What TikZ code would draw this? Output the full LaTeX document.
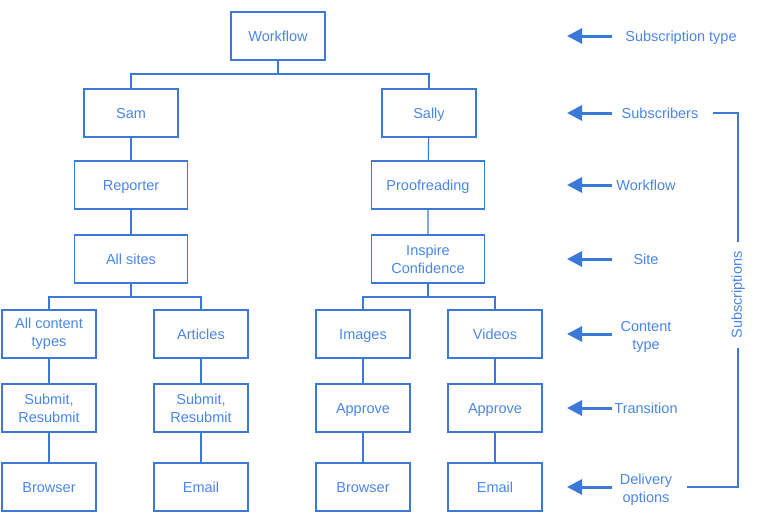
\documentclass[tikz,border=0pt]{standalone}
\usepackage{fontspec}
\setmainfont{Liberation Sans}
\usepackage{tikz}
\usetikzlibrary{arrows.meta,positioning}

\definecolor{lineblue}{HTML}{3C78D8}
\definecolor{textblue}{HTML}{4A86E8}

\tikzset{
	oneline/.style={text height=10pt, text depth=0pt},
	box/.style={draw=lineblue, line width=1.2pt, text=textblue, align=center,
		minimum width=94pt, minimum height=48pt, inner sep=2pt},
	widebox/.style={box, minimum width=113pt},
	sidelabel/.style={text=textblue, align=center},
	sidearrow/.style={draw=lineblue, line width=3pt, -{Triangle[length=15pt,width=15pt]}},
	tree/.style={draw=lineblue, line width=1.2pt},
}

\begin{document}
\begin{tikzpicture}[x=1pt, y=1pt, font=\fontsize{14.5}{18}\selectfont]
	\useasboundingbox (0,0) rectangle (763,-522);

	% tree
	\node[box,oneline] (wf) at (278,-36) {Workflow};
	\node[box,oneline] (sam) at (131,-113) {Sam};
	\node[box,oneline] (sally) at (429,-113) {Sally};
	\node[widebox,oneline] (reporter) at (131,-185) {Reporter};
	\node[widebox,oneline] (proof) at (428,-185) {Proofreading};
	\node[widebox,oneline] (allsites) at (131,-259) {All sites};
	\node[widebox] (inspire) at (428,-259) {Inspire\\Confidence};
	\node[box] (allct) at (49,-334) {All content\\types};
	\node[box,oneline] (articles) at (201,-334) {Articles};
	\node[box,oneline] (images) at (363,-334) {Images};
	\node[box,oneline] (videos) at (495,-334) {Videos};
	\node[box] (subA) at (49,-408) {Submit,\\Resubmit};
	\node[box] (subB) at (201,-408) {Submit,\\Resubmit};
	\node[box,oneline] (apprA) at (363,-408) {Approve};
	\node[box,oneline] (apprB) at (495,-408) {Approve};
	\node[box,oneline] (browA) at (49,-487) {Browser};
	\node[box,oneline] (emailA) at (201,-487) {Email};
	\node[box,oneline] (browB) at (363,-487) {Browser};
	\node[box,oneline] (emailB) at (495,-487) {Email};

	\coordinate (split1) at (278,-74);
	\coordinate (split2) at (131,-297);
	\coordinate (split3) at (428,-297);
	\draw[tree] (wf.south) -- (split1);
	\draw[tree] (sam.north) |- (split1) -| (sally.north);
	\draw[tree] (sam) -- (reporter) -- (allsites);
	\draw[tree] (sally) -- (proof) -- (inspire);
	\draw[tree] (allsites.south) -- (split2);
	\draw[tree] (allct.north) |- (split2) -| (articles.north);
	\draw[tree] (inspire.south) -- (split3);
	\draw[tree] (images.north) |- (split3) -| (videos.north);
	\draw[tree] (allct) -- (subA) -- (browA);
	\draw[tree] (articles) -- (subB) -- (emailA);
	\draw[tree] (images) -- (apprA) -- (browB);
	\draw[tree] (videos) -- (apprB) -- (emailB);

	% legend on the right
	\node[sidelabel,oneline] (lsubtype) at (681,-36) {Subscription type};
	\node[sidelabel,oneline] (lsubs) at (660,-113) {Subscribers};
	\node[sidelabel,oneline] (lwf) at (646,-185) {Workflow};
	\node[sidelabel,oneline] (lsite) at (646,-259) {Site};
	\node[sidelabel] (lct) at (646,-337) {Content\\type};
	\node[sidelabel,oneline] (ltrans) at (646,-408) {Transition};
	\node[sidelabel] (ldeliv) at (646,-490) {Delivery\\options};

	\foreach \y/\n in {36/1,113/2,185/3,259/4,334/5,408/6,487/7}{
		\coordinate (tail\n) at (612,-\y);
		\coordinate (tip\n) at (567,-\y);
		\draw[sidearrow] (tail\n) -- (tip\n);
	}

	% bracket
	\node[sidelabel, rotate=90, inner xsep=9pt] (subsc) at (738,-295) {Subscriptions};
	\coordinate (brtop) at (713,-113);
	\coordinate (brbot) at (687,-487);
	\draw[tree] (brtop) -| (subsc.east);
	\draw[tree] (subsc.west) |- (brbot);
\end{tikzpicture}
\end{document}
